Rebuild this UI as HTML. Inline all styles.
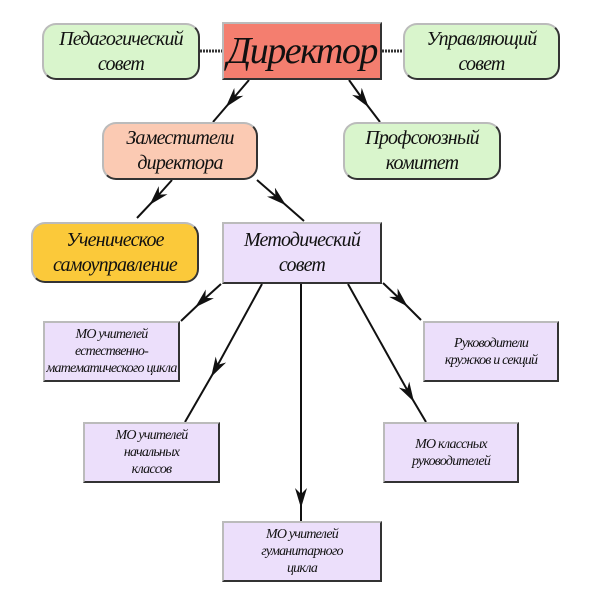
<!DOCTYPE html>
<html><head><meta charset="utf-8"><style>
body{margin:0;width:600px;height:600px;background:#fff;overflow:hidden;position:relative;font-family:"Liberation Serif","DejaVu Serif",serif;font-style:italic;color:#111}
.b{position:absolute;box-sizing:border-box;display:flex;align-items:center;justify-content:center;text-align:center;border:2px solid #333;border-top-color:#bbb;border-left-color:#bbb;letter-spacing:-0.8px}
.r{border-radius:14px}
.g{background:#d9f5cc}
.l{background:#ecdffb;font-size:14px;line-height:17px}
.m{font-size:20px;line-height:25px}
</style></head><body>
<svg width="600" height="600" style="position:absolute;left:0;top:0">
<defs><marker id="a" viewBox="0 0 20 12" refX="12" refY="6" markerWidth="20" markerHeight="12" markerUnits="userSpaceOnUse" orient="auto"><path d="M0,0 L20,6 L0,12 L6,6 Z" fill="#111"/></marker></defs>
<g stroke="#111" stroke-width="2" fill="none" marker-mid="url(#a)">
<polyline points="249,80 231,101 213,122"/>
<polyline points="349,80 364,101 380,122"/>
<polyline points="172,180 155,199 137,218"/>
<polyline points="257,180 280,200 304,221"/>
<polyline points="221,284 201,302 181,321"/>
<polyline points="262,284 215,370 185,422"/>
<polyline points="301,284 301,500 301,521"/>
<polyline points="348,284 410,395 426,422"/>
<polyline points="383,283 402,301 421,320"/>
</g>
<g stroke="#333" stroke-width="3" stroke-dasharray="2,1"><line x1="200" y1="51" x2="222" y2="51"/><line x1="382" y1="51" x2="403" y2="51"/></g>
</svg>
<div class="b r g m" style="left:42px;top:23px;width:158px;height:57px">Педагогический<br>совет</div>
<div class="b" style="left:222px;top:22px;width:160px;height:58px;background:#f47e6f;font-size:38px;letter-spacing:-1.5px">Директор</div>
<div class="b r g m" style="left:403px;top:23px;width:157px;height:57px">Управляющий<br>совет</div>
<div class="b r m" style="left:102px;top:122px;width:156px;height:58px;background:#fbcab3">Заместители<br>директора</div>
<div class="b r g m" style="left:343px;top:122px;width:158px;height:58px">Профсоюзный<br>комитет</div>
<div class="b r m" style="left:31px;top:222px;width:168px;height:61px;background:#fbc93a">Ученическое<br>самоуправление</div>
<div class="b m" style="left:222px;top:222px;width:160px;height:62px;background:#ecdffb">Методический<br>совет</div>
<div class="b l" style="left:43px;top:321px;width:137px;height:61px">МО учителей<br>естественно-<br>математического цикла</div>
<div class="b l" style="left:423px;top:321px;width:136px;height:61px">Руководители<br>кружков и секций</div>
<div class="b l" style="left:83px;top:422px;width:137px;height:61px">МО учителей<br>начальных<br>классов</div>
<div class="b l" style="left:383px;top:422px;width:136px;height:61px">МО классных<br>руководителей</div>
<div class="b l" style="left:222px;top:521px;width:160px;height:61px">МО учителей<br>гуманитарного<br>цикла</div>
</body></html>
